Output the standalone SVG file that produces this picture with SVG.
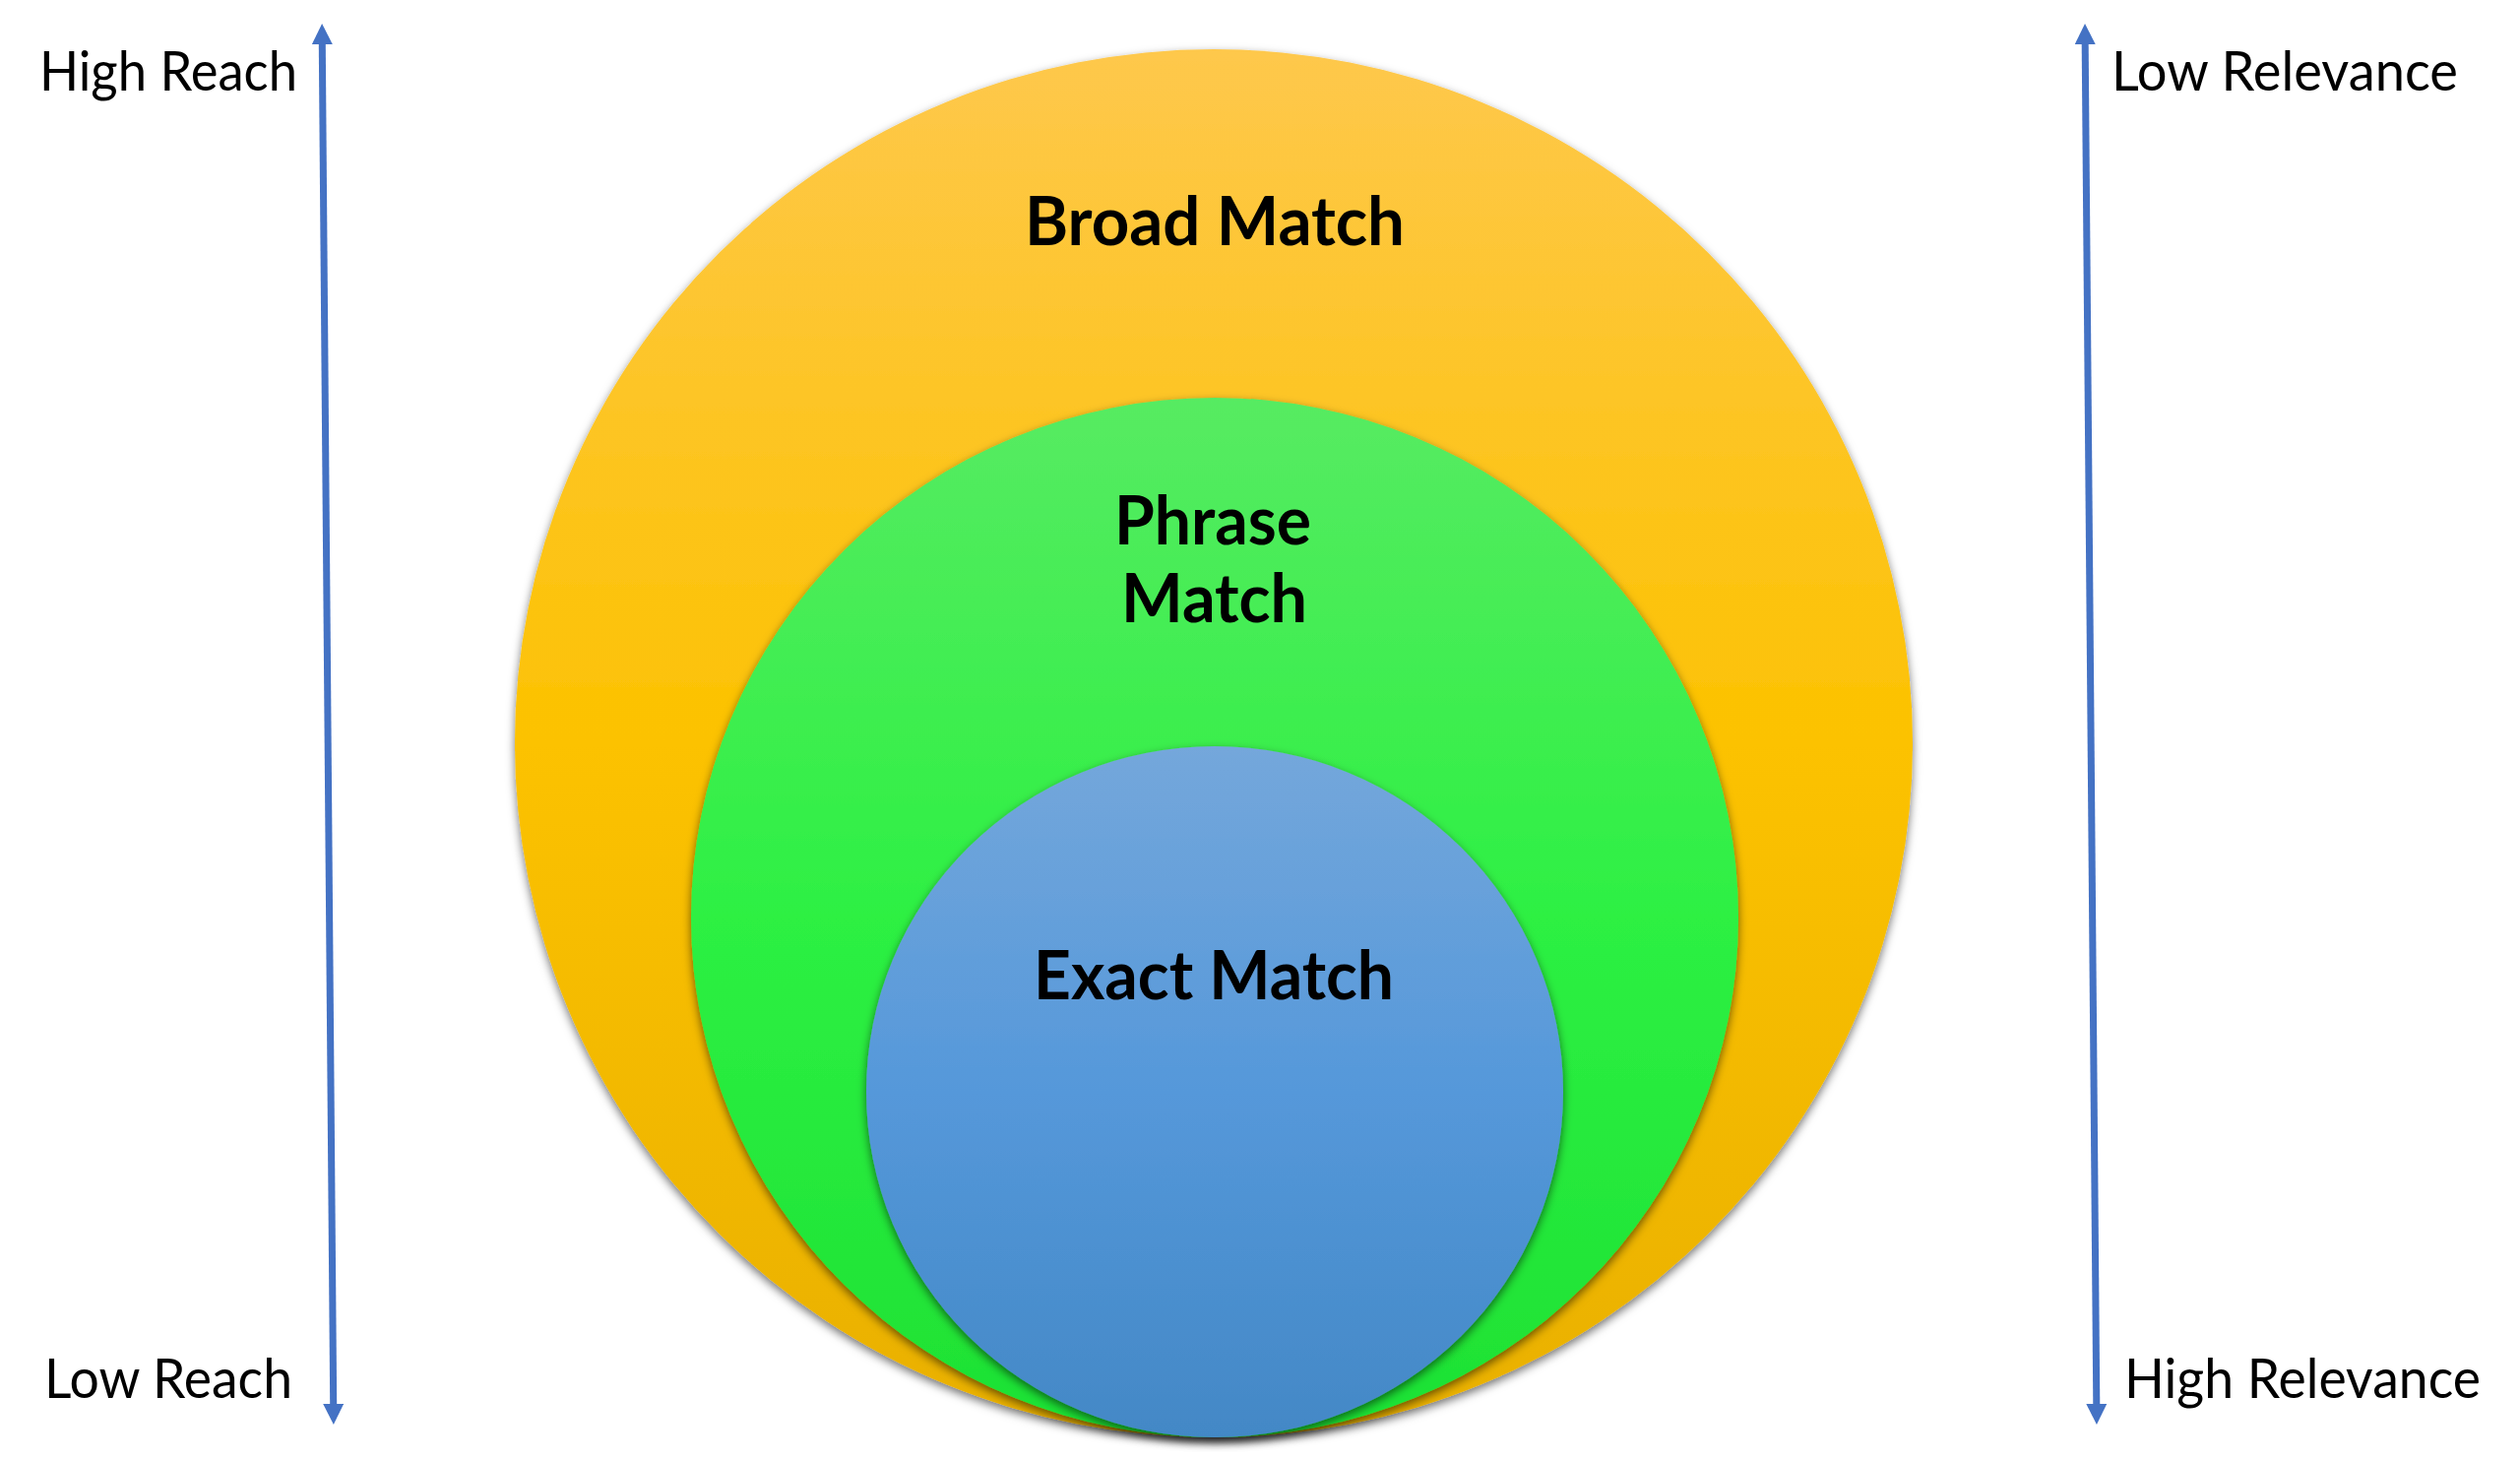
<svg xmlns="http://www.w3.org/2000/svg" width="2560" height="1483" viewBox="0 0 2560 1483">
<style>
.side{font-family:Lato,"Open Sans","Liberation Sans",sans-serif;font-size:56px;fill:#000;}
.lbl{font-family:Lato,"Open Sans","Liberation Sans",sans-serif;font-size:68px;font-weight:bold;fill:#000;}
.arr{stroke:#4472C4;stroke-width:7;fill:none;}
</style>
<defs>
<linearGradient id="gOrange" x1="0" y1="0" x2="0" y2="1">
<stop offset="0" stop-color="#FEC84C"/>
<stop offset="0.5" stop-color="#FCC200"/>
<stop offset="1" stop-color="#E9B000"/>
</linearGradient>
<linearGradient id="gGreen" x1="0" y1="0" x2="0" y2="1">
<stop offset="0" stop-color="#57EB62"/>
<stop offset="0.5" stop-color="#2DF043"/>
<stop offset="1" stop-color="#1DE133"/>
</linearGradient>
<linearGradient id="gBlue" x1="0" y1="0" x2="0" y2="1">
<stop offset="0" stop-color="#74A7DB"/>
<stop offset="0.5" stop-color="#5598DA"/>
<stop offset="1" stop-color="#4388C6"/>
</linearGradient>
<filter id="sh" x="-10%" y="-10%" width="120%" height="125%">
<feDropShadow dx="0" dy="4" stdDeviation="5" flood-color="#000" flood-opacity="0.55"/>
</filter>
<marker id="ah" viewBox="0 0 21 21" refX="0" refY="10.5" markerWidth="21" markerHeight="21" markerUnits="userSpaceOnUse" orient="auto-start-reverse">
<path d="M0,0 L21,10.5 L0,21 Z" fill="#4472C4"/>
</marker>
</defs>
<rect width="2560" height="1483" fill="#FFFFFF"/>
<g id="broad">
<ellipse cx="1233" cy="755" rx="710" ry="705" fill="url(#gOrange)" filter="url(#sh)"/>
<text class="lbl" x="1041" y="249" textLength="386" lengthAdjust="spacingAndGlyphs">Broad Match</text>
</g>
<g id="phrase">
<ellipse cx="1234" cy="932" rx="532" ry="528" fill="url(#gGreen)" filter="url(#sh)"/>
<text class="lbl" x="1132" y="553" textLength="200" lengthAdjust="spacingAndGlyphs">Phrase</text>
<text class="lbl" x="1139" y="632" textLength="189" lengthAdjust="spacingAndGlyphs">Match</text>
</g>
<g id="exact">
<ellipse cx="1234" cy="1109" rx="354" ry="351" fill="url(#gBlue)" filter="url(#sh)"/>
<text class="lbl" x="1050" y="1015" textLength="366" lengthAdjust="spacingAndGlyphs">Exact Match</text>
</g>
<g id="connectors">
<line class="arr" x1="327.3" y1="45" x2="338.7" y2="1426" marker-start="url(#ah)" marker-end="url(#ah)"/>
<line class="arr" x1="2118.2" y1="45" x2="2129.8" y2="1426" marker-start="url(#ah)" marker-end="url(#ah)"/>
</g>
<g id="labels">
<text class="side" x="40" y="92" textLength="262" lengthAdjust="spacingAndGlyphs">High Reach</text>
<text class="side" x="45" y="1420" textLength="252" lengthAdjust="spacingAndGlyphs">Low Reach</text>
<text class="side" x="2145" y="92" textLength="352" lengthAdjust="spacingAndGlyphs">Low Relevance</text>
<text class="side" x="2158" y="1420" textLength="362" lengthAdjust="spacingAndGlyphs">High Relevance</text>
</g>
</svg>
